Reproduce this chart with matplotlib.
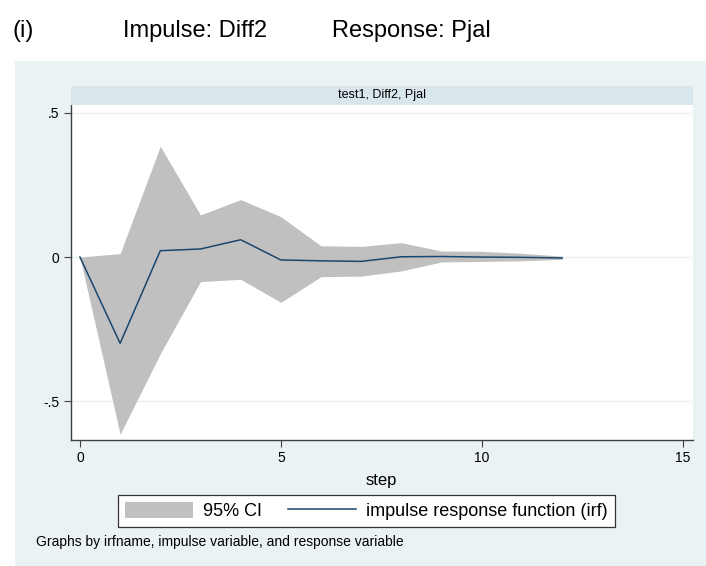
import matplotlib
matplotlib.use("Agg")
import matplotlib.pyplot as plt
from matplotlib.patches import Rectangle, Patch
from matplotlib.lines import Line2D
from matplotlib import font_manager

steps = list(range(13))
irf = [0.0, -0.299, 0.022, 0.028, 0.060, -0.010, -0.013, -0.015, 0.001, 0.002, 0.0, -0.001, -0.003]
ci_upper = [0.0, 0.012, 0.384, 0.146, 0.199, 0.140, 0.039, 0.037, 0.050, 0.021, 0.020, 0.013, 0.003]
ci_lower = [0.0, -0.614, -0.335, -0.085, -0.077, -0.157, -0.068, -0.066, -0.048, -0.017, -0.015, -0.013, -0.008]
yticks = [-0.5, 0, 0.5]
yticklabels = ["-.5", "0", ".5"]
xticks = [0, 5, 10, 15]

names = {f.name for f in font_manager.fontManager.ttflist}
base = "Liberation Sans" if "Liberation Sans" in names else "DejaVu Sans"
plt.rcParams['font.family'] = [base, 'DejaVu Sans']

BG = "#EAF2F3"
STRIP = "#D9E6EB"
GRAY = "#C0C0C0"
NAVY = "#1A476F"

fig = plt.figure(figsize=(7.06, 5.66), dpi=100)
W, H = 706, 566
fig.patches.append(Rectangle((15 / W, 0), 1 - 15 / W, 1 - 61 / H, transform=fig.transFigure,
                             facecolor=BG, edgecolor="none", zorder=-10))

fig.text(12 / W, 1 - 37 / H, "(i)", fontsize=17, va="baseline", ha="left")
fig.text(123 / W, 1 - 37 / H, "Impulse: Diff2", fontsize=17, va="baseline", ha="left")
fig.text(332 / W, 1 - 37 / H, "Response: Pjal", fontsize=17, va="baseline", ha="left")

left, right = 70.7 / W, 692.7 / W
bottom, top = 1 - 440 / H, 1 - 105 / H
ax = fig.add_axes([left, bottom, right - left, top - bottom])
ax.set_facecolor("white")
ax.fill_between(steps, ci_lower, ci_upper, color=GRAY, linewidth=0, zorder=2)
ax.plot(steps, irf, color=NAVY, linewidth=1.1, zorder=3)
ax.set_xlim(-0.23, 15.25)
ax.set_ylim(-0.634, 0.527)
ax.set_yticks(yticks)
ax.set_yticklabels(yticklabels)
ax.set_xticks(xticks)
ax.grid(axis="y", color=BG, linewidth=1, zorder=1)
ax.set_axisbelow(True)
for s in ["top", "right"]:
    ax.spines[s].set_visible(False)
for s in ["left", "bottom"]:
    ax.spines[s].set_color("#404040")
    ax.spines[s].set_linewidth(1)
ax.tick_params(axis="both", direction="out", length=5, width=0.8, color="#404040",
               labelsize=10, pad=3)
ax.set_xlabel("step", fontsize=12, labelpad=6)

sax = fig.add_axes([left, top, right - left, (105 - 85.7) / H])
sax.set_facecolor(STRIP)
sax.set_xticks([]); sax.set_yticks([])
for s in sax.spines.values():
    s.set_visible(False)
sax.text(0.5, 0.5, "test1, Diff2, Pjal", ha="center", va="center", fontsize=9, transform=sax.transAxes)

handles = [Patch(facecolor=GRAY, edgecolor="none"), Line2D([0], [0], color=NAVY, linewidth=1.1)]
leg = fig.legend(handles, ["95% CI", "impulse response function (irf)"], loc="center",
                 bbox_to_anchor=((117 + 616) / 2 / W, 1 - 511 / H), ncol=2, fontsize=13,
                 frameon=True, fancybox=False, edgecolor="#333333", framealpha=1,
                 handlelength=3.77, handleheight=1.0, handletextpad=0.55, columnspacing=1.44,
                 borderpad=0.39, borderaxespad=0)
leg.get_frame().set_linewidth(0.9)

fig.text(36 / W, 1 - 542 / H, "Graphs by irfname, impulse variable, and response variable", fontsize=10,
         ha="left", va="center")

fig.savefig("out.png", dpi=100, facecolor="white")
